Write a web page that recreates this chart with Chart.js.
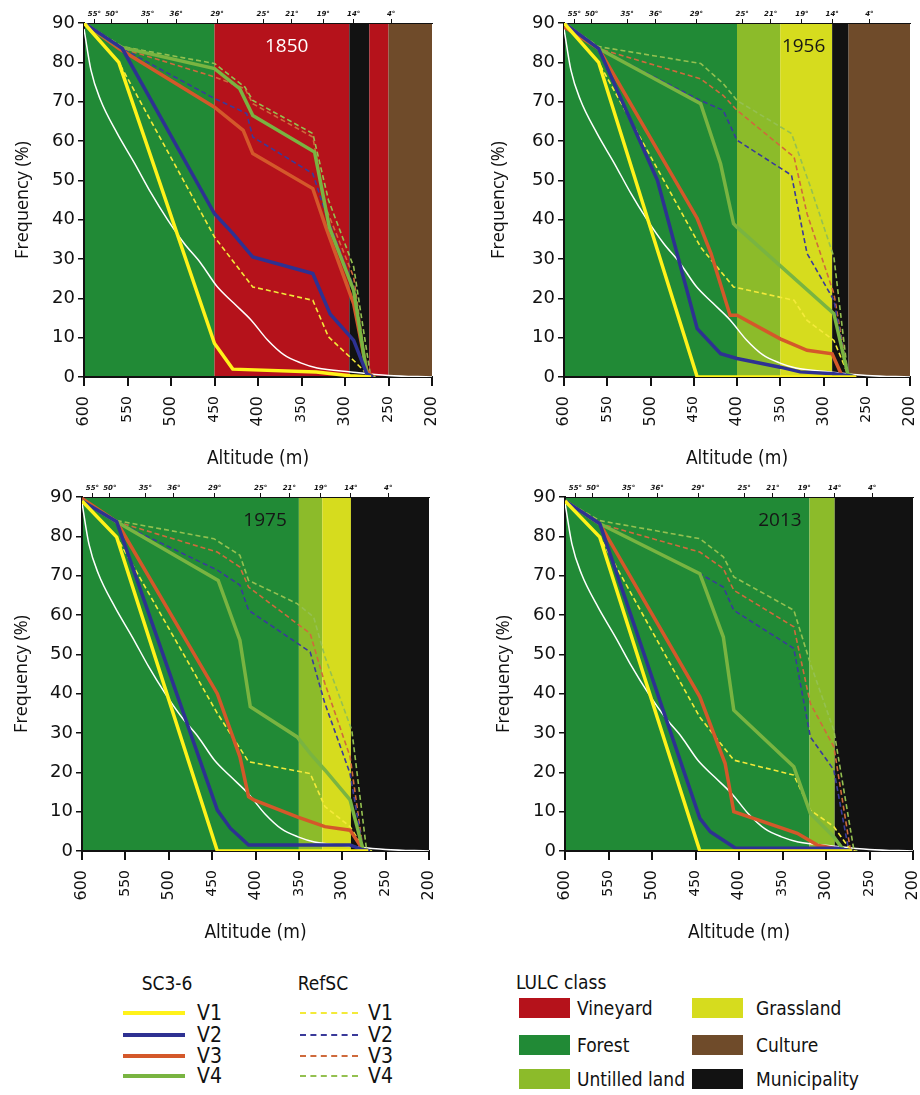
<!DOCTYPE html>
<html>
<head>
<meta charset="utf-8">
<script src="https://cdn.jsdelivr.net/npm/chart.js@4.4.1/dist/chart.umd.min.js"></script>
<style>
  body { margin: 0; background: #fff; }
  #page { position: relative; width: 920px; height: 1095px; overflow: hidden; color: #111;
          font-family: 'Liberation Sans Narrow', 'DejaVu Sans Condensed', sans-serif; }
  .panel { position: absolute; }
  .lg { position: absolute; white-space: nowrap; line-height: 1; font-size: 19px; }
  .mid { transform: translate(-50%, -50%); }
  .vmid { transform: translateY(-50%); }
  .sw { position: absolute; }
</style>
</head>
<body>
<div id="page">
  <canvas class="panel" id="c1850" width="440" height="472" style="left:0;top:0"></canvas>
  <canvas class="panel" id="c1956" width="450" height="472" style="left:470px;top:0"></canvas>
  <canvas class="panel" id="c1975" width="440" height="472" style="left:0;top:474px"></canvas>
  <canvas class="panel" id="c2013" width="450" height="472" style="left:470px;top:474px"></canvas>
  <div id="legend"></div>
</div>
<script>
// slope labels on the top axis and where they sit (altitude, m)
const slopeLabels = ['55°', '50°', '35°', '36°', '29°', '25°', '21°', '19°', '14°', '4°'];
const slopeAltitudes = [588, 568, 527, 494, 447, 394, 361, 325, 290, 247];

// white reference curve, same in every panel
const whiteCurve = [[600, 88.5], [592, 78], [581, 70.4], [562, 62], [542, 54.4], [523, 46.8], [504, 40], [485, 34],
  [466, 29], [447, 23], [428, 18.8], [408, 14.5], [389, 9.4], [370, 5.6], [351, 3.6], [332, 2.3], [293, 1.3], [250, 0.4], [200, 0]];

// 1850
const v1_1850 = [[600, 90], [560, 80], [450, 8.5], [429, 2], [333, 1.3], [294, 0.3], [270, 0]];
const v2_1850 = [[600, 90], [556, 83.5], [450, 41.5], [429, 36.5], [406, 30.5], [337, 26.3], [317, 16], [290, 9.3], [275, 0.8], [268, 0]];
const v3_1850 = [[600, 90], [560, 83.5], [450, 68.6], [417, 62.7], [406, 56.8], [337, 47.9], [322, 38.1], [290, 18.6], [275, 1.7], [268, 0]];
const v4_1850 = [[600, 90], [560, 84], [450, 78.4], [421, 73.3], [406, 66.5], [335, 57.2], [318, 38.1], [290, 22], [275, 0.8], [268, 0]];
const r1_1850 = [[600, 90], [560, 80], [450, 35.6], [406, 22.9], [337, 19.5], [319, 10.2], [290, 4.2], [275, 0.8], [268, 0]];
const r2_1850 = [[600, 90], [556, 83.5], [450, 70.8], [413, 67], [406, 61], [337, 51.7], [322, 41.5], [290, 22.9], [275, 1.3], [268, 0]];
const r3_1850 = [[600, 90], [556, 83.5], [450, 76.3], [415, 73.3], [406, 69.5], [337, 61], [322, 43], [290, 25.4], [275, 1.3], [268, 0]];
const r4_1850 = [[600, 90], [556, 84], [450, 79.7], [415, 73.7], [406, 70.3], [337, 61.9], [319, 45], [290, 28], [271, 0.8], [265, 0]];

// 1956
const v1_1956 = [[600, 90], [560, 80], [446, 0], [262, 0]];
const v2_1956 = [[600, 90], [560, 83.5], [492, 50], [446, 12.3], [419, 5.9], [400, 4.7], [350, 2.5], [327, 1.3], [288, 0.8], [272, 0.4], [262, 0]];
const v3_1956 = [[600, 89], [560, 83.5], [446, 40.3], [430, 31.4], [408, 15.7], [400, 15.7], [350, 9.7], [319, 6.8], [290, 5.9], [278, 0], [265, 0]];
const v4_1956 = [[600, 90], [560, 83.5], [442, 69.5], [419, 54.2], [404, 39], [400, 38.1], [288, 16.1], [272, 0.8], [265, 0]];
const r1_1956 = [[600, 90], [560, 80], [442, 33], [404, 22.9], [334, 19.5], [319, 14.4], [288, 9.3], [272, 0.8], [265, 0]];
const r2_1956 = [[600, 90], [560, 83.5], [442, 70.3], [416, 67.8], [400, 60.2], [337, 51.3], [319, 31.4], [288, 19.5], [272, 0.8], [265, 0]];
const r3_1956 = [[600, 90], [560, 83.5], [442, 75.8], [416, 71.6], [400, 67.8], [334, 55.9], [319, 41.5], [288, 21.2], [272, 0.8], [265, 0]];
const r4_1956 = [[600, 90], [560, 84], [442, 79.7], [416, 74.6], [400, 70.3], [337, 61.9], [315, 48.3], [288, 30.5], [272, 0.8], [265, 0]];

// 1975
const v1_1975 = [[600, 89], [560, 79.8], [444, 0], [270, 0]];
const v2_1975 = [[600, 89], [560, 83.7], [444, 10.4], [429, 5.8], [408, 1.5], [291, 1.5], [276, 0.3], [268, 0]];
const v3_1975 = [[600, 89.6], [560, 83.7], [444, 40], [418, 24], [408, 13.8], [402, 13], [352, 8.7], [320, 6.2], [291, 5.3], [276, 0.3], [268, 0]];
const v4_1975 = [[600, 89], [560, 83.7], [443, 68.8], [418, 53.6], [406, 36.7], [352, 29], [337, 24.8], [320, 20.6], [291, 13], [276, 0.3], [268, 0]];
const r1_1975 = [[600, 89], [560, 79.8], [444, 35], [408, 22.7], [337, 19.7], [320, 11.3], [291, 6.2], [274, 0.3], [266, 0]];
const r2_1975 = [[600, 89], [560, 83.7], [444, 71.4], [418, 67.6], [408, 61.2], [337, 50.6], [320, 37.5], [291, 19.7], [276, 0.3], [266, 0]];
const r3_1975 = [[600, 89], [560, 83.7], [444, 76], [418, 72.2], [408, 67.1], [337, 55.3], [320, 42.6], [291, 24], [276, 0.3], [266, 0]];
const r4_1975 = [[600, 89], [560, 84], [448, 79.4], [418, 75.2], [408, 68.8], [352, 62.9], [333, 59.5], [320, 49.4], [289, 30.7], [272, 0.3], [265, 0]];

// 2013
const v1_2013 = [[600, 89], [560, 79.8], [445, 0], [270, 0]];
const v2_2013 = [[600, 89], [560, 83.2], [445, 8.3], [433, 4.9], [404, 0.7], [287, 0.7], [270, 0]];
const v3_2013 = [[600, 89], [560, 83.2], [445, 39.2], [416, 22.3], [406, 10], [333, 4.5], [310, 1.5], [291, 0.7], [270, 0]];
const v4_2013 = [[600, 89], [560, 83.2], [445, 70.5], [418, 54.4], [406, 35.8], [337, 21.4], [318, 9.6], [291, 3.6], [280, 0.3], [270, 0]];
const r1_2013 = [[600, 89], [560, 79.8], [445, 34], [406, 23.1], [337, 19.3], [318, 10.4], [291, 6.2], [272, 0.3], [266, 0]];
const r2_2013 = [[600, 89], [560, 83.2], [445, 70.5], [418, 67.1], [406, 61.2], [337, 51.5], [318, 29], [291, 20.6], [274, 0.3], [266, 0]];
const r3_2013 = [[600, 89], [560, 83.2], [445, 76], [418, 71.8], [406, 66.3], [337, 57], [318, 37.5], [291, 26.5], [272, 0.3], [266, 0]];
const r4_2013 = [[600, 89], [560, 84], [445, 79.4], [418, 74.8], [406, 69.7], [337, 61.2], [318, 47.7], [291, 30.7], [268, 0.3], [264, 0]];

// land use bands: [from altitude, to altitude, class]
const bands1850 = [[600, 450, 'Forest'], [450, 295, 'Vineyard'], [295, 272, 'Municipality'], [272, 250, 'Vineyard'], [250, 200, 'Culture']];
const bands1956 = [[600, 400, 'Forest'], [400, 350, 'Untilled land'], [350, 290, 'Grassland'], [290, 271, 'Municipality'], [271, 200, 'Culture']];
const bands1975 = [[600, 350, 'Forest'], [350, 323, 'Untilled land'], [323, 290, 'Grassland'], [290, 200, 'Municipality']];
const bands2013 = [[600, 319, 'Forest'], [319, 290, 'Untilled land'], [290, 200, 'Municipality']];

const lulcNames = ['Vineyard', 'Forest', 'Untilled land', 'Grassland', 'Culture', 'Municipality'];
const lulcColors = {
  'Vineyard': '#b5121b', 'Forest': '#218a36', 'Untilled land': '#8cbb2a',
  'Grassland': '#d6dc1e', 'Culture': '#6f4b2a', 'Municipality': '#121212'
};
const seriesNames = ['V1', 'V2', 'V3', 'V4'];
const solidColors = ['#fff21a', '#2e3192', '#d4582a', '#79b441'];
const dashColors = ['#f3ea3a', '#3a3a9a', '#cf6a3c', '#94c050'];

const condensed = "'Liberation Sans Narrow', 'DejaVu Sans Condensed', sans-serif";

const bandPlugin = {
  id: 'bands',
  beforeDraw(chart, args, opts) {
    const { ctx, chartArea: a, scales: { x } } = chart;
    ctx.save();
    opts.bands.forEach(b => {
      const x1 = x.getPixelForValue(b[0]);
      const x2 = x.getPixelForValue(b[1]);
      ctx.fillStyle = lulcColors[b[2]];
      ctx.fillRect(x1, a.top, x2 - x1, a.bottom - a.top);
    });
    ctx.restore();
  },
  beforeDatasetsDraw(chart, args, opts) {
    const { ctx, scales: { x, y } } = chart;
    ctx.save();
    ctx.font = "19px 'Open Sans', sans-serif";
    ctx.fillStyle = opts.yearColor;
    ctx.textAlign = 'center';
    ctx.textBaseline = 'middle';
    ctx.fillText(opts.year, x.getPixelForValue(opts.yearAlt), y.getPixelForValue(84));
    ctx.restore();
  }
};

const toPts = arr => arr.map(p => ({ x: p[0], y: p[1] }));

const makePanel = (p) => {
  const datasets = [];
  [0, 1, 3, 2].forEach(i => {
    datasets.push({ data: toPts(p.solid[i]), borderColor: solidColors[i], borderWidth: 3.5, pointRadius: 0, tension: 0 });
  });
  [0, 1, 2, 3].forEach(i => {
    datasets.push({ data: toPts(p.dashed[i]), borderColor: dashColors[i], borderWidth: 1.6, borderDash: [5, 3], pointRadius: 0, tension: 0 });
  });
  datasets.push({ data: toPts(whiteCurve), borderColor: '#ffffff', borderWidth: 1.5, pointRadius: 0, cubicInterpolationMode: 'monotone' });

  const noPad = s => { s.paddingLeft = 0; s.paddingRight = 0; s.paddingTop = 0; s.paddingBottom = 0; };

  new Chart(document.getElementById(p.id).getContext('2d'), {
    type: 'line',
    data: { datasets },
    options: {
      responsive: false,
      animation: false,
      devicePixelRatio: 1,
      layout: { padding: { left: 0, right: p.padR, top: 0, bottom: 0 } },
      plugins: {
        legend: { display: false },
        tooltip: { enabled: false },
        bands: { bands: p.bands, year: p.year, yearAlt: p.yearAlt, yearColor: p.yearColor }
      },
      scales: {
        x: {
          type: 'linear', position: 'bottom', min: 200, max: 600, reverse: true,
          ticks: {
            stepSize: 50, autoSkip: false, maxRotation: 90, minRotation: 90, padding: 10, color: '#111',
            font: c => ({ family: 'DejaVu Sans', size: c.tick && c.tick.value % 100 ? 14 : 16 })
          },
          grid: { drawOnChartArea: false, tickLength: 9, color: '#111', lineWidth: 2 },
          border: { color: '#111', width: 2 },
          title: { display: true, text: 'Altitude (m)', color: '#111', font: { family: condensed, size: 19 }, padding: { top: 0, bottom: 2 } },
          afterFit: s => { s.height = 95; noPad(s); }
        },
        x2: {
          type: 'linear', position: 'top', min: 200, max: 600, reverse: true,
          afterBuildTicks: s => { s.ticks = slopeAltitudes.map(v => ({ value: v })); },
          ticks: {
            autoSkip: false, maxRotation: 0, padding: 1, color: '#111',
            font: { family: 'DejaVu Sans', size: 7, weight: 'bold', style: 'italic' },
            callback: (v, i) => slopeLabels[i]
          },
          grid: { drawOnChartArea: false, tickLength: 4, color: '#111', lineWidth: 1 },
          border: { color: '#111', width: 1 },
          afterFit: s => { s.height = 23; noPad(s); }
        },
        y: {
          min: 0, max: 90,
          ticks: { stepSize: 10, padding: 3, color: '#111', font: { family: 'DejaVu Sans', size: 18 } },
          grid: { drawOnChartArea: false, tickLength: 6, color: '#111', lineWidth: 1.5 },
          border: { color: '#111', width: 2 },
          title: { display: true, text: 'Frequency (%)', color: '#111', font: { family: 'Open Sans', size: 18 }, padding: { top: p.titlePad, bottom: 0 } },
          afterFit: s => { s.width = p.yw; noPad(s); }
        }
      }
    },
    plugins: [bandPlugin]
  });
};

makePanel({ id: 'c1850', yw: 84, padR: 8, titlePad: 12, year: '1850', yearAlt: 367, yearColor: '#ffffff', bands: bands1850,
  solid: [v1_1850, v2_1850, v3_1850, v4_1850], dashed: [r1_1850, r2_1850, r3_1850, r4_1850] });
makePanel({ id: 'c1956', yw: 94, padR: 10, titlePad: 18, year: '1956', yearAlt: 323, yearColor: '#161616', bands: bands1956,
  solid: [v1_1956, v2_1956, v3_1956, v4_1956], dashed: [r1_1956, r2_1956, r3_1956, r4_1956] });
makePanel({ id: 'c1975', yw: 82, padR: 11, titlePad: 11, year: '1975', yearAlt: 389, yearColor: '#161616', bands: bands1975,
  solid: [v1_1975, v2_1975, v3_1975, v4_1975], dashed: [r1_1975, r2_1975, r3_1975, r4_1975] });
makePanel({ id: 'c2013', yw: 95, padR: 7, titlePad: 23, year: '2013', yearAlt: 353, yearColor: '#161616', bands: bands2013,
  solid: [v1_2013, v2_2013, v3_2013, v4_2013], dashed: [r1_2013, r2_2013, r3_2013, r4_2013] });

// legend below the panels
const legend = document.getElementById('legend');
let html = '';
html += '<div class="lg mid" style="left:167px;top:983px">SC3-6</div>';
html += '<div class="lg mid" style="left:323px;top:983px">RefSC</div>';
const rowY = [1013, 1035, 1056, 1076];
seriesNames.forEach((n, i) => {
  html += `<div class="sw" style="left:123px;top:${rowY[i] - 2}px;width:62px;height:4px;background:${solidColors[i]}"></div>`;
  html += `<div class="lg vmid" style="left:197px;top:${rowY[i]}px;font-size:21px">${n}</div>`;
  html += `<div class="sw" style="left:300px;top:${rowY[i] - 1}px;width:58px;height:0;border-top:2px dashed ${dashColors[i]}"></div>`;
  html += `<div class="lg vmid" style="left:368px;top:${rowY[i]}px;font-size:21px">${n}</div>`;
});
html += '<div class="lg vmid" style="left:516px;top:982px">LULC class</div>';
const boxX = [519, 692];
const labX = [577, 756];
const boxY = [1008, 1045, 1079];
lulcNames.forEach((n, i) => {
  const col = Math.floor(i / 3), row = i % 3;
  html += `<div class="sw" style="left:${boxX[col]}px;top:${boxY[row] - 10}px;width:51px;height:20px;background:${lulcColors[n]}"></div>`;
  html += `<div class="lg vmid" style="left:${labX[col]}px;top:${boxY[row]}px">${n}</div>`;
});
legend.innerHTML = html;
</script>
</body>
</html>
